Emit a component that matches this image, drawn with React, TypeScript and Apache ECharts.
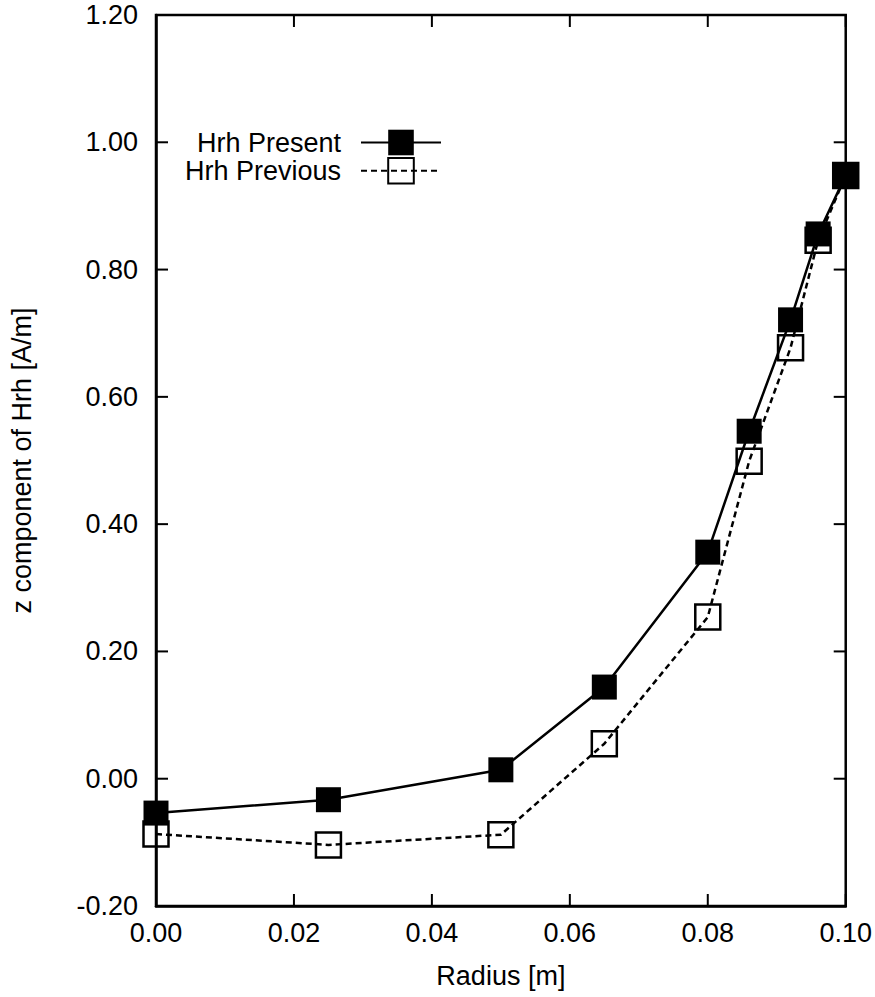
import React, { useEffect, useRef } from "react";
import * as echarts from "echarts";

const radius = [0, 0.025, 0.05, 0.065, 0.08, 0.086, 0.092, 0.096, 0.1];
const hrhPresent = [-0.054, -0.033, 0.014, 0.144, 0.356, 0.546, 0.721, 0.856, 0.948];
const hrhPrevious = [-0.087, -0.104, -0.088, 0.055, 0.254, 0.499, 0.677, 0.846, 0.948];

const xTickValues = [0, 0.02, 0.04, 0.06, 0.08, 0.1];
const yTickValues = [-0.2, 0, 0.2, 0.4, 0.6, 0.8, 1.0, 1.2];

const seriesNames = ["Hrh Present", "Hrh Previous"];
const xAxisName = "Radius [m]";
const yAxisName = "z component of Hrh [A/m]";

const FONT = "'Liberation Sans', Arial, Helvetica, sans-serif";

export default function App() {
  const ref = useRef<HTMLDivElement>(null);

  useEffect(() => {
    if (!ref.current) return;
    const chart = echarts.init(ref.current, undefined, { renderer: "svg" });
    const pts = (ys: number[]) => radius.map((x, i) => [x, ys[i]]);
    const labelStyle = { color: "#000", fontSize: 27, fontFamily: FONT };

    chart.setOption({
      animation: false,
      backgroundColor: "#fff",
      textStyle: { fontFamily: FONT, color: "#000" },
      grid: { left: 154, right: 29, top: 15, bottom: 91 },
      legend: {
        data: seriesNames,
        orient: "vertical",
        align: "right",
        right: 433,
        top: 129,
        padding: 0,
        itemWidth: 80,
        itemHeight: 32,
        itemGap: 1,
        textStyle: { color: "#000", fontSize: 27, fontFamily: FONT, padding: [0, 15, 0, 0] },
      },
      xAxis: {
        type: "value",
        min: 0,
        max: 0.1,
        interval: 0.02,
        name: xAxisName,
        nameLocation: "middle",
        nameGap: 56,
        nameTextStyle: labelStyle,
        axisLine: { show: true, onZero: false, lineStyle: { color: "#000", width: 2.5 } },
        axisTick: { show: false },
        splitLine: { show: false },
        axisLabel: { ...labelStyle, margin: 13, formatter: (v: number) => v.toFixed(2) },
      },
      yAxis: {
        type: "value",
        min: -0.2,
        max: 1.2,
        interval: 0.2,
        name: yAxisName,
        nameLocation: "middle",
        nameGap: 121,
        nameTextStyle: labelStyle,
        axisLine: { show: true, onZero: false, lineStyle: { color: "#000", width: 2.5 } },
        axisTick: { show: false },
        splitLine: { show: false },
        axisLabel: { ...labelStyle, margin: 18, formatter: (v: number) => v.toFixed(2) },
      },
      series: [
        {
          name: seriesNames[1],
          type: "line",
          data: pts(hrhPrevious),
          symbol: "rect",
          symbolSize: 25,
          showAllSymbol: true,
          lineStyle: { color: "#000", width: 2.5, type: [6, 4] },
          itemStyle: { color: "rgba(0,0,0,0)", borderColor: "#000", borderWidth: 2.5 },
          z: 2,
        },
        {
          name: seriesNames[0],
          type: "line",
          data: pts(hrhPresent),
          symbol: "rect",
          symbolSize: 25,
          showAllSymbol: true,
          lineStyle: { color: "#000", width: 2.5, type: "solid" },
          itemStyle: { color: "#000", borderColor: "#000", borderWidth: 0 },
          z: 3,
        },
      ],
    });

    // Frame and inward ticks on all four sides, placed through the chart's own scales
    const lo = chart.convertToPixel({ gridIndex: 0 }, [xTickValues[0], yTickValues[0]]) as number[];
    const hi = chart.convertToPixel({ gridIndex: 0 }, [
      xTickValues[xTickValues.length - 1],
      yTickValues[yTickValues.length - 1],
    ]) as number[];
    const left = lo[0];
    const bottom = lo[1];
    const right = hi[0];
    const top = hi[1];
    const T = 12;
    const stroke = { stroke: "#000", lineWidth: 2 };
    const elements: any[] = [
      {
        type: "rect",
        shape: { x: left, y: top, width: right - left, height: bottom - top },
        style: { fill: "none", stroke: "#000", lineWidth: 2.5 },
        silent: true,
        z: 100,
      },
    ];
    xTickValues.forEach((v) => {
      const px = chart.convertToPixel({ xAxisIndex: 0 }, v) as number;
      elements.push({ type: "line", shape: { x1: px, y1: bottom, x2: px, y2: bottom - T }, style: stroke, silent: true, z: 100 });
      elements.push({ type: "line", shape: { x1: px, y1: top, x2: px, y2: top + T }, style: stroke, silent: true, z: 100 });
    });
    yTickValues.forEach((v) => {
      const py = chart.convertToPixel({ yAxisIndex: 0 }, v) as number;
      elements.push({ type: "line", shape: { x1: left, y1: py, x2: left + T, y2: py }, style: stroke, silent: true, z: 100 });
      elements.push({ type: "line", shape: { x1: right, y1: py, x2: right - T, y2: py }, style: stroke, silent: true, z: 100 });
    });
    chart.setOption({ graphic: { elements } });

    return () => chart.dispose();
  }, []);

  return (
    <div
      ref={ref}
      style={{ position: "absolute", left: 0, top: 0, width: 875, height: 997, background: "#fff" }}
    />
  );
}
